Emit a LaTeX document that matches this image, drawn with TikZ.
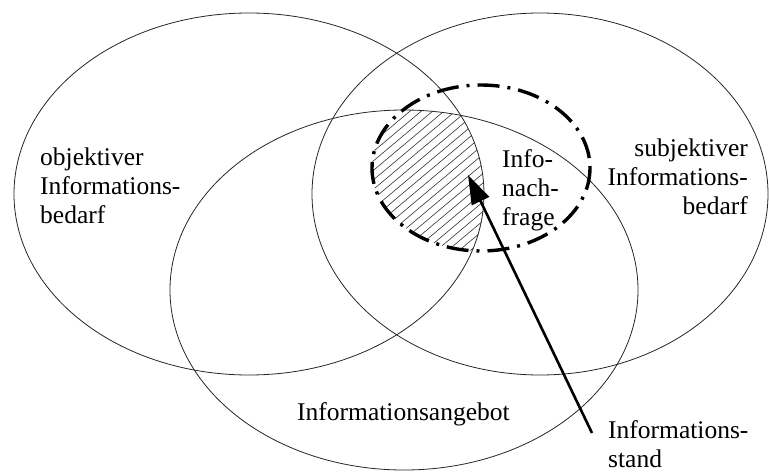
\documentclass[tikz,border=0pt]{standalone}
\usepackage{fontspec}
\setmainfont{Liberation Serif}
\usetikzlibrary{arrows.meta}
\begin{document}
\begin{tikzpicture}[x=1pt,y=-1pt,
  setline/.style={draw=black!85, line width=0.8pt},
  demand/.style={draw=black, line width=3.4pt, dash pattern=on 22pt off 8pt on 3pt off 8pt},
  hatchline/.style={black!80, line width=0.6pt},
  lbl/.style={inner sep=0pt, font=\fontsize{25.5}{29}\selectfont},
  pointer/.style={line width=2.6pt, -{Triangle[length=29pt,width=19pt]}}
]
\useasboundingbox (0,0) rectangle (769,474);

% hatched region: Infonachfrage within objektiver Bedarf and Angebot
\begin{scope}
  \clip (481,168) ellipse [x radius=109, y radius=83];
  \clip (249,194) ellipse [x radius=235, y radius=181];
  \clip (404,290) ellipse [x radius=234, y radius=180];
  \foreach \k in {0,...,34} {
    \draw[hatchline] (350,{95+\k*9.5}) -- ++(180,-151);
  }
\end{scope}

% the three sets
\draw[setline] (249,194) ellipse [x radius=235, y radius=181];
\draw[setline] (540,194) ellipse [x radius=228, y radius=181];
\draw[setline] (404,290) ellipse [x radius=234, y radius=180];

% Informationsnachfrage
\draw[demand] (481,168) ellipse [x radius=109, y radius=83];

% labels (base anchor = baseline of the last line)
\node[lbl, anchor=base west, align=left] (obj) at (40,223) {objektiver\\Informations-\\bedarf};
\node[lbl, anchor=base east, align=right] (subj) at (748,214) {subjektiver\\Informations-\\bedarf};
\node[lbl, anchor=base west, align=left] (nach) at (502,225) {Info-\\nach-\\frage};
\node[lbl, anchor=base west] (ang) at (297,420) {Informationsangebot};
\node[lbl, anchor=base west, align=left] (stand) at (608,467) {Informations-\\stand};

% Informationsstand arrow
\coordinate (tail) at (592,433);
\coordinate (tip) at (468,175);
\draw[pointer] (tail) -- (tip);
\end{tikzpicture}
\end{document}
